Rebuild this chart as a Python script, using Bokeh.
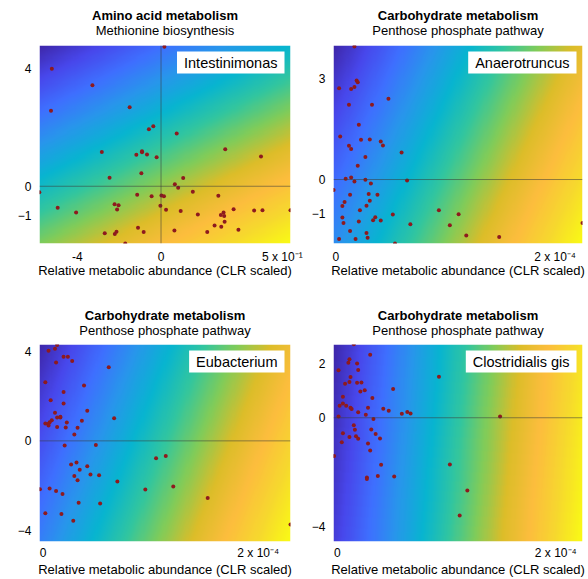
import numpy as np
from bokeh.plotting import figure
from bokeh.layouts import gridplot
from bokeh.models import Span, Label, FixedTicker, LinearColorMapper
from bokeh.embed import file_html
from bokeh.resources import INLINE

# ---------------- data ----------------
# Panel 1: Intestinimonas (Amino acid metabolism / Methionine biosynthesis)
x1 = [0.16, -5.22, -3.28, -5.26, -1.50, -0.58, -0.37, 0.75, -2.83, -1.18, -0.91, -0.91, -0.67, -0.21,
      3.07, 4.78, -0.94, -2.46, 1.06, 0.66, 0.82, -5.82, -1.14, -0.45, 0.02, 0.14, 1.52, 2.74,
      -4.94, -4.06, -2.22, -2.03, -2.10, -0.03, 0.24, 0.94, 1.76, 2.86, 2.99, 3.02, 3.04, 3.47,
      4.45, 4.85, 6.19, 2.56, 2.88, 3.70, 2.21, -1.10, -0.83, 0.64, -2.69, -2.21, -2.13, -1.71]
y1 = [4.73, 3.98, 3.42, 2.56, 2.68, 1.93, 2.03, 1.79, 1.16, 1.07, 1.19, 1.15, 1.08, 0.98,
      1.25, 1.01, 0.44, 0.29, 0.28, 0.07, -0.05, -0.20, -0.29, -0.34, -0.31, -0.34, -0.19, -0.32,
      -0.73, -0.89, -0.61, -0.64, -0.79, -0.66, -0.80, -0.84, -0.96, -0.97, -0.89, -1.01, -1.20, -0.78,
      -0.82, -0.81, -0.81, -1.33, -1.37, -1.47, -1.55, -1.41, -1.55, -1.50, -1.59, -1.62, -1.54, -1.94]

# Panel 2: Anaerotruncus (Carbohydrate metabolism / Penthose phosphate pathway)
x2 = [0.17, 0.19, 0.20, 0.03, 0.14, 0.17, 0.48, 0.12, 0.33, 0.21, 0.04, 0.23, 0.31, 0.41, 0.43,
      0.12, 0.14, 0.60, 0.27, 0.20, 0.09, 0.14, 0.17, 0.27, 0.32, 0.65, -0.02, 0.13, 0.30, 0.38,
      0.08, 0.06, 0.31, 0.28, 0.22, 0.06, 0.07, 0.21, 0.36, 0.34, 0.41, 0.52, 0.94, 1.12, 0.68,
      1.04, 0.13, 0.28, 0.29, 0.03, 0.18, 1.19, 1.49, 0.54, 2.25]
y2 = [3.95, 2.94, 2.89, 2.71, 2.69, 2.75, 2.40, 2.22, 2.22, 1.63, 1.28, 1.18, 1.19, 1.13, 1.01,
      1.00, 0.91, 0.80, 0.67, 0.41, 0.02, 0.06, -0.06, -0.01, -0.12, -0.03, -0.31, -0.45, -0.43, -0.45,
      -0.67, -0.79, -0.63, -0.78, -0.91, -1.13, -1.29, -1.25, -1.12, -1.21, -1.22, -1.04, -0.91, -1.03, -1.33,
      -1.36, -1.53, -1.59, -1.73, -1.77, -1.77, -1.66, -1.71, -1.90, -1.29]

# Panel 3: Eubacterium (Carbohydrate metabolism / Penthose phosphate pathway)
x3 = [0.13, 0.11, 0.05, 0.19, 0.23, 0.12, 0.27, 0.61, 0.02, 0.38, 0.19, 0.07, 0.19, 0.41, 0.11,
      0.66, 0.13, 0.16, 0.16, 0.08, 0.36, 0.02, 0.05, 0.06, 0.05, 0.22, 0.13, 0.21, 0.32, 0.29,
      0.20, 0.49, 1.05, 1.14, 0.26, 0.31, 0.41, 0.34, 0.44, 0.52, 0.29, 0.32, 0.69, -0.03, 0.06,
      0.12, 0.18, 0.95, 1.21, 1.53, 0.33, 0.53, 0.02, 0.17, 0.28, 2.30]
y3 = [4.27, 4.10, 4.01, 3.75, 3.75, 3.49, 3.56, 3.28, 2.61, 2.46, 2.18, 1.81, 1.66, 1.34, 1.25,
      1.01, 1.04, 1.04, 1.07, 0.92, 0.89, 0.77, 0.76, 0.83, 0.68, 0.82, 0.62, 0.59, 0.58, 0.28,
      -0.21, -0.18, -0.77, -0.67, -1.05, -0.96, -1.13, -1.29, -1.50, -1.53, -1.56, -1.75, -1.81, -2.15, -2.12,
      -2.23, -2.37, -2.17, -2.03, -2.54, -2.76, -2.79, -3.22, -3.26, -3.56, -3.72]

# Panel 4: Clostridialis gis (Carbohydrate metabolism / Penthose phosphate pathway)
x4 = [0.15, 0.30, 0.11, 0.10, 0.18, 0.01, 0.19, 0.93, 0.12, 0.07, 0.11, 0.18, 0.22, 0.21, 0.25,
      0.51, 0.05, 0.32, 0.02, 0.05, 0.08, 0.12, 0.13, 0.19, 0.28, 0.42, 0.47, 0.26, 0.59, 0.64,
      0.67, 0.01, 0.33, 1.49, 0.15, 0.16, 0.31, 0.05, 0.11, 0.17, 0.19, 0.35, 0.39, 0.04, 0.28,
      0.30, -0.03, 0.40, 1.03, 0.27, 0.27, 0.37, 0.52, 1.19, 1.12]
y4 = [2.71, 2.32, 2.16, 2.03, 2.00, 1.75, 1.76, 1.51, 1.50, 1.25, 1.32, 1.29, 1.30, 0.97, 1.01,
      1.06, 0.77, 0.73, 0.44, 0.53, 0.44, 0.37, 0.32, 0.20, 0.37, 0.33, 0.26, 0.11, 0.15, 0.21,
      0.16, 0.05, -0.05, 0.05, -0.28, -0.44, -0.43, -0.57, -0.71, -0.68, -0.77, -0.60, -0.76, -0.90, -0.95,
      -1.21, -1.41, -1.73, -1.72, -2.20, -2.26, -2.15, -2.16, -2.68, -3.60]

titles = ["Amino acid metabolism", "Carbohydrate metabolism", "Carbohydrate metabolism", "Carbohydrate metabolism"]
subtitles = ["Methionine biosynthesis", "Penthose phosphate pathway", "Penthose phosphate pathway", "Penthose phosphate pathway"]
names = ["Intestinimonas", "Anaerotruncus", "Eubacterium", "Clostridialis gis"]

x_ticks = [[-4, 0, 5.8], [0, 2], [0, 2], [0, 2]]
x_tick_labels = [["-4", "0", "5 x 10\u207b\u00b9"], ["0", "2 x 10\u207b\u2074"], ["0", "2 x 10\u207b\u2074"], ["0", "2 x 10\u207b\u2074"]]
y_ticks = [[4, 0, -1], [3, 0, -1], [4, 0, -4], [2, 0, -4]]

x_ranges = [(-5.81, 6.19), (-0.021, 2.25), (-0.034, 2.30), (-0.036, 2.245)]
y_ranges = [(-1.94, 4.77), (-1.90, 3.98), (-4.48, 4.29), (-4.56, 2.70)]

# gradient direction (pixel weights) per panel
grad_dirs = [(107, 200), (177, 85), (197, 80), (250, 24)]

FONT = "Liberation Sans"

# parula-like palette
anchors = [
    (0.00, (0.2422, 0.1504, 0.6603)),
    (0.10, (0.2803, 0.2782, 0.9221)),
    (0.20, (0.2440, 0.4358, 0.9988)),
    (0.30, (0.1540, 0.5902, 0.9218)),
    (0.40, (0.0297, 0.7082, 0.8163)),
    (0.50, (0.1938, 0.7758, 0.6251)),
    (0.60, (0.5044, 0.7993, 0.3480)),
    (0.70, (0.8634, 0.7406, 0.1596)),
    (0.80, (0.9892, 0.7400, 0.2400)),
    (0.90, (0.9657, 0.8500, 0.1800)),
    (1.00, (0.9769, 0.9839, 0.0805)),
]


def make_palette(n=256):
    pos = np.array([a[0] for a in anchors])
    cols = np.array([a[1] for a in anchors])
    out = []
    for t in np.linspace(0, 1, n):
        r = np.interp(t, pos, cols[:, 0])
        g = np.interp(t, pos, cols[:, 1])
        b = np.interp(t, pos, cols[:, 2])
        out.append("#%02x%02x%02x" % (int(round(r * 255)), int(round(g * 255)), int(round(b * 255))))
    return out


PAL = make_palette()

# layout: plot figures (frame positions) and title strips
plot_layouts = [
    dict(width=308, height=245, left=38, right=18, top=1, bottom=46),
    dict(width=278, height=245, left=23, right=3, top=1, bottom=46),
    dict(width=308, height=236, left=39, right=17, top=1, bottom=38),
    dict(width=278, height=236, left=23, right=4, top=1, bottom=38),
]
title_heights = [44, 44, 54, 54]
title_baselines = [(29, 14.5), (29, 14.5), (28, 13.5), (28, 13.5)]


def make_title(i):
    L = plot_layouts[i]
    H = title_heights[i]
    xr = x_ranges[i]
    p = figure(width=L["width"], height=H, x_range=xr, y_range=(0, H),
               output_backend="svg", toolbar_location=None,
               min_border_left=L["left"], min_border_right=L["right"],
               min_border_top=0, min_border_bottom=0)
    p.axis.visible = False
    p.grid.visible = False
    p.outline_line_color = None
    xc = (xr[0] + xr[1]) / 2
    tb, sb = title_baselines[i]
    p.add_layout(Label(x=xc, y=tb, text=titles[i], text_align="center",
                       text_baseline="alphabetic", text_font=FONT, text_font_size="13px",
                       text_font_style="bold", text_color="black"))
    p.add_layout(Label(x=xc, y=sb, text=subtitles[i], text_align="center",
                       text_baseline="alphabetic", text_font=FONT, text_font_size="13px",
                       text_color="black"))
    return p


def make_panel(i, xs, ys):
    L = plot_layouts[i]
    xr, yr = x_ranges[i], y_ranges[i]
    p = figure(width=L["width"], height=L["height"], x_range=xr, y_range=yr,
               output_backend="svg", toolbar_location=None,
               min_border_left=L["left"], min_border_right=L["right"],
               min_border_top=L["top"], min_border_bottom=L["bottom"])
    p.outline_line_color = None
    p.grid.visible = False
    p.background_fill_color = "white"

    # gradient background
    a, b = grad_dirs[i]
    fw = L["width"] - L["left"] - L["right"]
    fh = L["height"] - L["top"] - L["bottom"]
    nx, ny = 240, 190
    u = (np.arange(nx) + 0.5) / nx * fw
    v = (1 - (np.arange(ny) + 0.5) / ny) * fh
    U, V = np.meshgrid(u, v)
    T = (a * U + b * V) / (a * fw + b * fh)
    mapper = LinearColorMapper(palette=PAL, low=0, high=1)
    p.image(image=[T], x=xr[0], y=yr[0], dw=xr[1] - xr[0], dh=yr[1] - yr[0], color_mapper=mapper)

    # zero lines
    p.add_layout(Span(location=0, dimension="width", line_color="#3a3a3a", line_alpha=0.55, line_width=1))
    if i == 0:
        p.add_layout(Span(location=0, dimension="height", line_color="#3a3a3a", line_alpha=0.55, line_width=1))

    p.scatter(xs, ys, size=4, fill_color="#8e1a1e", line_color=None)

    # axes
    for ax in (p.xaxis[0], p.yaxis[0]):
        ax.axis_line_color = None
        ax.major_tick_line_color = None
        ax.minor_tick_line_color = None
        ax.major_tick_out = 0
        ax.major_tick_in = 0
        ax.major_label_text_font = FONT
        ax.major_label_text_font_size = "12px"
        ax.major_label_text_color = "black"
    p.xaxis.ticker = FixedTicker(ticks=x_ticks[i])
    p.xaxis.major_label_overrides = {t: s for t, s in zip(x_ticks[i], x_tick_labels[i])}
    p.yaxis.ticker = FixedTicker(ticks=y_ticks[i])
    p.yaxis.major_label_standoff = 8
    p.xaxis.major_label_standoff = 6 if i < 2 else 4
    p.xaxis.axis_label = "Relative metabolic abundance (CLR scaled)"
    p.xaxis.axis_label_text_font = FONT
    p.xaxis.axis_label_text_font_size = "13px"
    p.xaxis.axis_label_text_font_style = "normal"
    p.xaxis.axis_label_text_color = "black"
    p.xaxis.axis_label_standoff = -4 if i < 2 else -1

    p.add_layout(Label(x=xr[1], y=yr[1], x_offset=-6, y_offset=-6, text=names[i],
                       text_align="right", text_baseline="top", text_font=FONT,
                       text_font_size="14.5px", text_color="black",
                       background_fill_color="white", background_fill_alpha=1.0,
                       padding=dict(x=7, y=3)))
    return p


t = [make_title(i) for i in range(4)]
plots = [make_panel(0, x1, y1), make_panel(1, x2, y2), make_panel(2, x3, y3), make_panel(3, x4, y4)]
grid = gridplot([[t[0], t[1]], [plots[0], plots[1]], [t[2], t[3]], [plots[2], plots[3]]],
                toolbar_location=None)

open("out.html", "w").write(file_html(grid, INLINE))
